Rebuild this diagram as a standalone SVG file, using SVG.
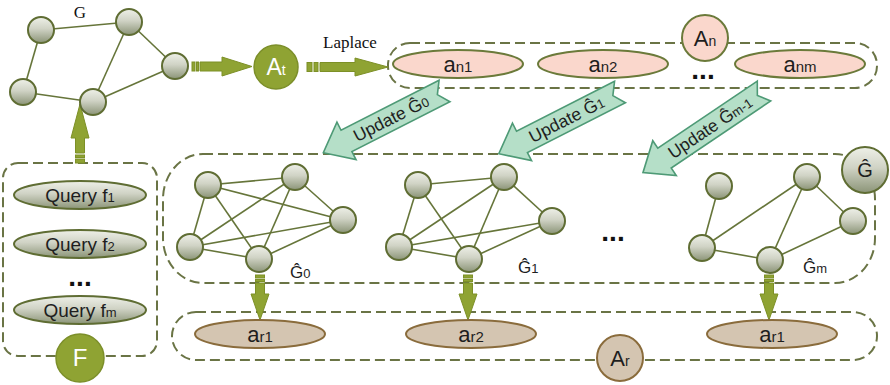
<svg xmlns="http://www.w3.org/2000/svg" width="890" height="385" viewBox="0 0 890 385">
<defs>
<linearGradient id="ng" x1="0" y1="0" x2="0" y2="1">
<stop offset="0" stop-color="#eef0e8"/>
<stop offset="0.45" stop-color="#d0d3c5"/>
<stop offset="1" stop-color="#8b9477"/>
</linearGradient>
<style>
.node{fill:url(#ng);stroke:#5f6d33;stroke-width:2}
.edge{stroke:#66753a;stroke-width:1.6;fill:none}
.dash{fill:none;stroke:#6a7445;stroke-width:2;stroke-dasharray:10 5}
.pink{fill:#fad7cc;stroke:#6b7a3a;stroke-width:2}
.tan{fill:#d4c5b1;stroke:#8a6c3c;stroke-width:2}
.olive{fill:#8fa333;stroke:#7c8f2a;stroke-width:1.5}
.garrow{fill:#8fa333;stroke:#7d9027;stroke-width:1}
.uarrow{fill:#b5dfc8;stroke:#4e9a76;stroke-width:1.6}
.sans{font-family:"Liberation Sans","DejaVu Sans",sans-serif;fill:#1e1e1e}
.serif{font-family:"Liberation Serif","DejaVu Serif",serif;fill:#111}
.dots{font-family:"Liberation Sans",sans-serif;font-weight:bold;font-size:28px;fill:#111;text-anchor:middle}
</style>
</defs>

<!-- dashed containers -->
<g id="boxes">
<rect class="dash" x="388" y="43" width="489" height="45" rx="22"/>
<rect class="dash" x="163" y="154" width="712" height="129" rx="40" ry="45"/>
<rect class="dash" x="172" y="312" width="705" height="48" rx="24"/>
<rect class="dash" x="3" y="163" width="154" height="193" rx="15"/>
</g>

<!-- connectors -->
<g id="connectors">
<g id="edges-G">
<line class="edge" x1="41" y1="30" x2="129" y2="22"/>
<line class="edge" x1="41" y1="30" x2="23" y2="92"/>
<line class="edge" x1="23" y1="92" x2="93" y2="102"/>
<line class="edge" x1="93" y1="102" x2="129" y2="22"/>
<line class="edge" x1="93" y1="102" x2="175" y2="66"/>
<line class="edge" x1="129" y1="22" x2="175" y2="66"/>
</g>
<g id="edges-G0">
<line class="edge" x1="208" y1="185" x2="295" y2="177"/>
<line class="edge" x1="208" y1="185" x2="343" y2="220"/>
<line class="edge" x1="208" y1="185" x2="190" y2="247"/>
<line class="edge" x1="208" y1="185" x2="259" y2="259"/>
<line class="edge" x1="295" y1="177" x2="343" y2="220"/>
<line class="edge" x1="295" y1="177" x2="190" y2="247"/>
<line class="edge" x1="295" y1="177" x2="259" y2="259"/>
<line class="edge" x1="343" y1="220" x2="190" y2="247"/>
<line class="edge" x1="343" y1="220" x2="259" y2="259"/>
<line class="edge" x1="190" y1="247" x2="259" y2="259"/>
</g>
<g id="edges-G1">
<line class="edge" x1="418" y1="185" x2="504" y2="177"/>
<line class="edge" x1="418" y1="185" x2="399" y2="247"/>
<line class="edge" x1="418" y1="185" x2="469" y2="259"/>
<line class="edge" x1="504" y1="177" x2="399" y2="247"/>
<line class="edge" x1="504" y1="177" x2="469" y2="259"/>
<line class="edge" x1="504" y1="177" x2="552" y2="221"/>
<line class="edge" x1="552" y1="221" x2="399" y2="247"/>
<line class="edge" x1="552" y1="221" x2="469" y2="259"/>
<line class="edge" x1="399" y1="247" x2="469" y2="259"/>
</g>
<g id="edges-Gm">
<line class="edge" x1="719" y1="186" x2="702" y2="248"/>
<line class="edge" x1="702" y1="248" x2="807" y2="177"/>
<line class="edge" x1="702" y1="248" x2="770" y2="260"/>
<line class="edge" x1="770" y1="260" x2="807" y2="177"/>
<line class="edge" x1="770" y1="260" x2="853" y2="221"/>
<line class="edge" x1="807" y1="177" x2="853" y2="221"/>
</g>

<!-- green block arrows -->
<g id="arrow-G-At">
<rect class="garrow" x="192" y="62" width="3" height="9"/>
<rect class="garrow" x="196.5" y="62" width="2" height="9"/>
<polygon class="garrow" points="200,62 222,62 222,57 252,66.5 222,76 222,71 200,71"/>
</g>
<g id="arrow-laplace">
<rect class="garrow" x="307" y="62.5" width="5" height="9"/>
<rect class="garrow" x="314" y="62.5" width="4" height="9"/>
<polygon class="garrow" points="320,62.5 355,62.5 355,58 388,67 355,76 355,71.5 320,71.5"/>
</g>
<g id="arrow-F-G">
<rect class="garrow" x="75.5" y="159" width="9" height="4"/>
<rect class="garrow" x="75.5" y="155" width="9" height="2.5"/>
<polygon class="garrow" points="75.5,153 75.5,138 71,138 80,104 89,138 84.5,138 84.5,153"/>
</g>
<g id="arrow-down-0">
<rect class="garrow" x="255.5" y="275" width="9" height="3"/>
<rect class="garrow" x="255.5" y="279.5" width="9" height="2"/>
<polygon class="garrow" points="255.5,283 264.5,283 264.5,294 269,294 260,320 251,294 255.5,294"/>
</g>
<g id="arrow-down-1">
<rect class="garrow" x="463.5" y="275" width="9" height="3"/>
<rect class="garrow" x="463.5" y="279.5" width="9" height="2"/>
<polygon class="garrow" points="463.5,283 472.5,283 472.5,294 477,294 468,320 459,294 463.5,294"/>
</g>
<g id="arrow-down-m">
<rect class="garrow" x="764.5" y="275" width="9" height="3"/>
<rect class="garrow" x="764.5" y="279.5" width="9" height="2"/>
<polygon class="garrow" points="764.5,283 773.5,283 773.5,294 778,294 769,320 760,294 764.5,294"/>
</g>

<!-- update arrows -->
<g id="update-0" transform="translate(444.5,91) rotate(-27)">
<path class="uarrow" d="M0,-12 L-110,-12 L-110,-21 L-136,0 L-110,21 L-110,12 L0,12 L-8,0 Z"/>
<text class="sans" x="-60" y="6" font-size="17.5" text-anchor="middle">Update Ĝ<tspan font-size="13">0</tspan></text>
</g>
<g id="update-1" transform="translate(620,92) rotate(-27)">
<path class="uarrow" d="M0,-12 L-110,-12 L-110,-21 L-136,0 L-110,21 L-110,12 L0,12 L-8,0 Z"/>
<text class="sans" x="-60" y="6" font-size="17.5" text-anchor="middle">Update Ĝ<tspan font-size="13">1</tspan></text>
</g>
<g id="update-m" transform="translate(764,91) rotate(-34)">
<path class="uarrow" d="M0,-12 L-120,-12 L-120,-21 L-146,0 L-120,21 L-120,12 L0,12 L-8,0 Z"/>
<text class="sans" x="-65" y="6" font-size="17.5" text-anchor="middle">Update Ĝ<tspan font-size="13">m-1</tspan></text>
</g>
</g>

<!-- top-left graph G -->
<g id="graph-G">
<circle class="node" cx="41" cy="30" r="13"/>
<circle class="node" cx="129" cy="22" r="13"/>
<circle class="node" cx="175" cy="66" r="13"/>
<circle class="node" cx="23" cy="92" r="13"/>
<circle class="node" cx="93" cy="102" r="13"/>
<text class="serif" x="80" y="18" font-size="17" text-anchor="middle">G</text>
</g>

<g id="node-At">
<circle class="olive" cx="276" cy="67" r="22"/>
<text class="sans" x="276" y="75" font-size="23" text-anchor="middle" style="fill:#fff">A<tspan font-size="14">t</tspan></text>
</g>

<text id="label-laplace" class="serif" x="350" y="48" font-size="17" text-anchor="middle">Laplace</text>

<!-- An set -->
<g id="node-an1">
<ellipse class="pink" cx="458" cy="64" rx="65" ry="14"/>
<text class="sans" x="458" y="72" font-size="22" text-anchor="middle">a<tspan font-size="15">n1</tspan></text>
</g>
<g id="node-an2">
<ellipse class="pink" cx="603" cy="64" rx="65" ry="14"/>
<text class="sans" x="603" y="72" font-size="22" text-anchor="middle">a<tspan font-size="15">n2</tspan></text>
</g>
<text class="dots" x="703" y="79">...</text>
<g id="node-anm">
<ellipse class="pink" cx="800" cy="64" rx="65" ry="14"/>
<text class="sans" x="800" y="72" font-size="22" text-anchor="middle">a<tspan font-size="15">nm</tspan></text>
</g>
<g id="node-An">
<circle class="pink" cx="705" cy="38" r="23"/>
<text class="sans" x="705" y="46" font-size="22" text-anchor="middle">A<tspan font-size="14">n</tspan></text>
</g>

<!-- G hat graphs -->
<g id="graph-G0">
<circle class="node" cx="208" cy="185" r="13"/>
<circle class="node" cx="295" cy="177" r="13"/>
<circle class="node" cx="343" cy="220" r="13"/>
<circle class="node" cx="190" cy="247" r="13"/>
<circle class="node" cx="259" cy="259" r="13"/>
<text class="sans" x="290" y="278" font-size="17">Ĝ<tspan font-size="13">0</tspan></text>
</g>
<g id="graph-G1">
<circle class="node" cx="418" cy="185" r="13"/>
<circle class="node" cx="504" cy="177" r="13"/>
<circle class="node" cx="552" cy="221" r="13"/>
<circle class="node" cx="399" cy="247" r="13"/>
<circle class="node" cx="469" cy="259" r="13"/>
<text class="sans" x="518" y="273" font-size="17">Ĝ<tspan font-size="13">1</tspan></text>
</g>
<text class="dots" x="613" y="241">...</text>
<g id="graph-Gm">
<circle class="node" cx="719" cy="186" r="13"/>
<circle class="node" cx="807" cy="177" r="13"/>
<circle class="node" cx="853" cy="221" r="13"/>
<circle class="node" cx="702" cy="248" r="13"/>
<circle class="node" cx="770" cy="260" r="13"/>
<text class="sans" x="803" y="273" font-size="17">Ĝ<tspan font-size="13">m</tspan></text>
</g>
<g id="node-Ghat">
<circle class="node" cx="865" cy="170" r="23"/>
<text class="sans" x="865" y="177" font-size="20" text-anchor="middle">Ĝ</text>
</g>

<!-- Ar set -->
<g id="node-ar1">
<ellipse class="tan" cx="260" cy="334" rx="65" ry="14"/>
<text class="sans" x="260" y="342" font-size="22" text-anchor="middle">a<tspan font-size="15">r1</tspan></text>
</g>
<g id="node-ar2">
<ellipse class="tan" cx="471" cy="334" rx="65" ry="14"/>
<text class="sans" x="471" y="342" font-size="22" text-anchor="middle">a<tspan font-size="15">r2</tspan></text>
</g>
<g id="node-arm">
<ellipse class="tan" cx="772" cy="334" rx="65" ry="14"/>
<text class="sans" x="772" y="342" font-size="22" text-anchor="middle">a<tspan font-size="15">r1</tspan></text>
</g>
<g id="node-Ar">
<circle class="tan" cx="620" cy="358" r="23"/>
<text class="sans" x="620" y="366" font-size="22" text-anchor="middle">A<tspan font-size="14">r</tspan></text>
</g>

<!-- Query set -->
<g id="node-q1">
<ellipse class="node" cx="80" cy="195" rx="66" ry="14"/>
<text class="sans" x="80" y="202" font-size="19" text-anchor="middle">Query f<tspan font-size="13">1</tspan></text>
</g>
<g id="node-q2">
<ellipse class="node" cx="80" cy="244" rx="66" ry="14"/>
<text class="sans" x="80" y="251" font-size="19" text-anchor="middle">Query f<tspan font-size="13">2</tspan></text>
</g>
<text class="dots" x="80" y="286">...</text>
<g id="node-qm">
<ellipse class="node" cx="80" cy="310" rx="66" ry="14"/>
<text class="sans" x="80" y="317" font-size="19" text-anchor="middle">Query f<tspan font-size="13">m</tspan></text>
</g>
<g id="node-F">
<circle class="olive" cx="80" cy="358" r="24"/>
<text class="sans" x="80" y="366" font-size="24" text-anchor="middle" style="fill:#fff">F</text>
</g>
</svg>
